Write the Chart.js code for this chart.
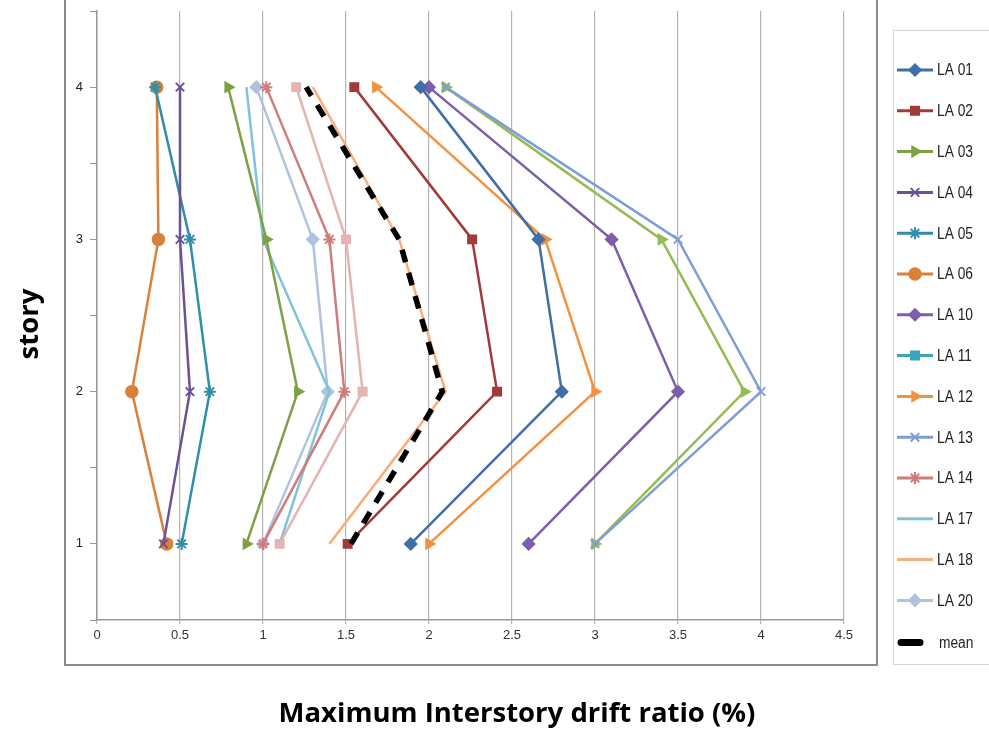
<!DOCTYPE html>
<html>
<head>
<meta charset="utf-8">
<script src="https://cdn.jsdelivr.net/npm/chart.js@4.4.1/dist/chart.umd.min.js"></script>
<style>
  html, body { margin: 0; padding: 0; background: #fff; }
  #wrap { position: relative; width: 989px; height: 736px; }
</style>
</head>
<body>
<div id="wrap"><canvas id="driftChart" width="989" height="736"></canvas></div>
<script>
// stories (y) and drift ratio values (x), listed story 1 -> 4
const stories = [1, 2, 3, 4];
const storyLabels = ['1', '2', '3', '4'];

const la01 = [1.89, 2.8, 2.66, 1.95];
const la02 = [1.51, 2.41, 2.26, 1.55];
const la03 = [0.9, 1.21, 1.02, 0.79];
const la04 = [0.4, 0.56, 0.5, 0.5];
const la05 = [0.51, 0.68, 0.56, 0.35];
const la06 = [0.42, 0.21, 0.37, 0.36];
const la10 = [2.6, 3.5, 3.1, 2.0];
const la11 = [1.1, 1.6, 1.5, 1.2];
const la12 = [2.0, 3.0, 2.7, 1.68];
const la13 = [3.0, 4.0, 3.5, 2.1];
const la14 = [1.0, 1.49, 1.4, 1.02];
const la17 = [1.1, 1.4, 1.0, 0.9];
const la18 = [1.4, 2.1, 1.82, 1.3];
const la20 = [1.0, 1.39, 1.3, 0.96];
const extraGreen = [3.0, 3.9, 3.4, 2.1];   // line without a legend entry
const meanDrift = [1.53, 2.08, 1.82, 1.26];

const toPoints = arr => arr.map((v, i) => ({ x: v, y: stories[i] }));

function series(label, values, color, style, extra) {
    return Object.assign({
        label: label,
        data: toPoints(values),
        showLine: true,
        borderColor: color,
        backgroundColor: color,
        borderWidth: 2.5,
        pointStyle: style || false,
        pointRadius: style ? 6 : 0,
        pointBorderWidth: 1.5,
        pointRotation: style === 'triangle' ? 90 : 0,
        inLegend: true
    }, extra || {});
}

const datasets = [
    series('LA 01', la01, '#3f6ea8', 'rectRot'),
    series('LA 02', la02, '#a33a3a', 'rect'),
    series('LA 03', la03, '#7fa146', 'triangle'),
    series('LA 04', la04, '#6b5296', 'crossRot', { pointBorderWidth: 2 }),
    series('LA 05', la05, '#2f8ea8', 'star', { pointBorderWidth: 2 }),
    series('LA 06', la06, '#d9803a', 'circle'),
    series('LA 10', la10, '#7c5eab', 'rectRot'),
    series('LA 11', la11, '#e3b4b3', 'rect', { legendColor: '#3aa4bf' }),
    series('LA 12', la12, '#f4913f', 'triangle'),
    series('LA 13', la13, '#7f9ed3', 'crossRot', { pointBorderWidth: 2 }),
    series('LA 14', la14, '#d07c7a', 'star', { pointBorderWidth: 2 }),
    series('LA 17', la17, '#7fc3d8', null),
    series('LA 18', la18, '#f9ae7c', null),
    series('LA 20', la20, '#b0c2de', 'rectRot'),
    series('', extraGreen, '#95bb55', 'triangle', { inLegend: false }),
    series('mean', meanDrift, '#000000', null, { borderWidth: 5.5, borderDash: [13, 11], order: -1 })
];

// outer frame, legend box and axis titles
const decorPlugin = {
    id: 'decor',
    afterDraw(chart) {
        const ctx = chart.ctx;
        ctx.save();
        // frame around plot
        ctx.strokeStyle = '#8c8c8c';
        ctx.lineWidth = 2;
        ctx.strokeRect(65, -2, 812, 667);

        // legend box
        ctx.strokeStyle = '#d4d4d4';
        ctx.lineWidth = 1;
        ctx.strokeRect(893.5, 30.5, 100, 634);

        let y = 70;
        chart.data.datasets.forEach(ds => {
            if (!ds.inLegend) return;
            const isMean = ds.label === 'mean';
            const col = ds.legendColor || ds.borderColor;
            ctx.strokeStyle = col;
            ctx.fillStyle = col;
            ctx.lineWidth = isMean ? 7 : 3;
            ctx.setLineDash([]);
            ctx.lineCap = isMean ? 'round' : 'butt';
            ctx.beginPath();
            ctx.moveTo(isMean ? 901 : 897, y);
            ctx.lineTo(isMean ? 920 : 933, y);
            ctx.stroke();
            if (ds.pointStyle) {
                ctx.lineWidth = ds.pointBorderWidth;
                Chart.helpers.drawPoint(ctx, {
                    pointStyle: ds.pointStyle,
                    radius: 6,
                    rotation: ds.pointRotation,
                    borderWidth: ds.pointBorderWidth
                }, 915, y);
            }
            // condensed label text
            ctx.save();
            ctx.translate(isMean ? 939 : 937, y + 1);
            ctx.scale(0.86, 1);
            ctx.fillStyle = '#222';
            ctx.font = '16px "Liberation Sans", sans-serif';
            ctx.textAlign = 'left';
            ctx.textBaseline = 'middle';
            ctx.fillText(ds.label, 0, 0);
            ctx.restore();
            y += ds.label === 'LA 20' ? 42 : 40.8;
        });

        // axis titles
        ctx.fillStyle = '#000';
        ctx.font = 'bold 27.5px "Open Sans", "Liberation Sans", sans-serif';
        ctx.textAlign = 'center';
        ctx.textBaseline = 'middle';
        ctx.fillText('Maximum Interstory drift ratio (%)', 517, 714);
        ctx.translate(30, 324);
        ctx.rotate(-Math.PI / 2);
        ctx.fillText('story', 0, 0);
        ctx.restore();
    }
};

new Chart(document.getElementById('driftChart'), {
    type: 'scatter',
    data: { datasets: datasets },
    plugins: [decorPlugin],
    options: {
        responsive: false,
        animation: false,
        devicePixelRatio: 1,
        layout: { padding: { left: 52, right: 145, top: 11, bottom: 86 } },
        plugins: {
            legend: { display: false },
            tooltip: { enabled: false }
        },
        scales: {
            x: {
                type: 'linear',
                min: 0,
                max: 4.5,
                ticks: {
                    stepSize: 0.5,
                    color: '#333',
                    font: { family: "'Liberation Sans', sans-serif", size: 13 },
                    padding: 4,
                    callback: v => String(v)
                },
                grid: { color: '#b4b4b4', lineWidth: 1.2, tickLength: 4 },
                border: { color: '#9a9a9a', width: 1.5 },
                afterFit: s => { s.height = 30; }
            },
            y: {
                type: 'linear',
                min: 0.5,
                max: 4.5,
                ticks: {
                    stepSize: 0.5,
                    color: '#222',
                    font: { family: "'Liberation Sans', sans-serif", size: 13 },
                    padding: 7,
                    callback: v => Number.isInteger(v) ? storyLabels[v - 1] : ''
                },
                grid: { drawOnChartArea: false, color: '#9a9a9a', tickLength: 7 },
                border: { color: '#9a9a9a', width: 1.5 },
                afterFit: s => { s.width = 45; s.paddingTop = 0; s.paddingBottom = 0; }
            }
        }
    }
});
</script>
</body>
</html>
